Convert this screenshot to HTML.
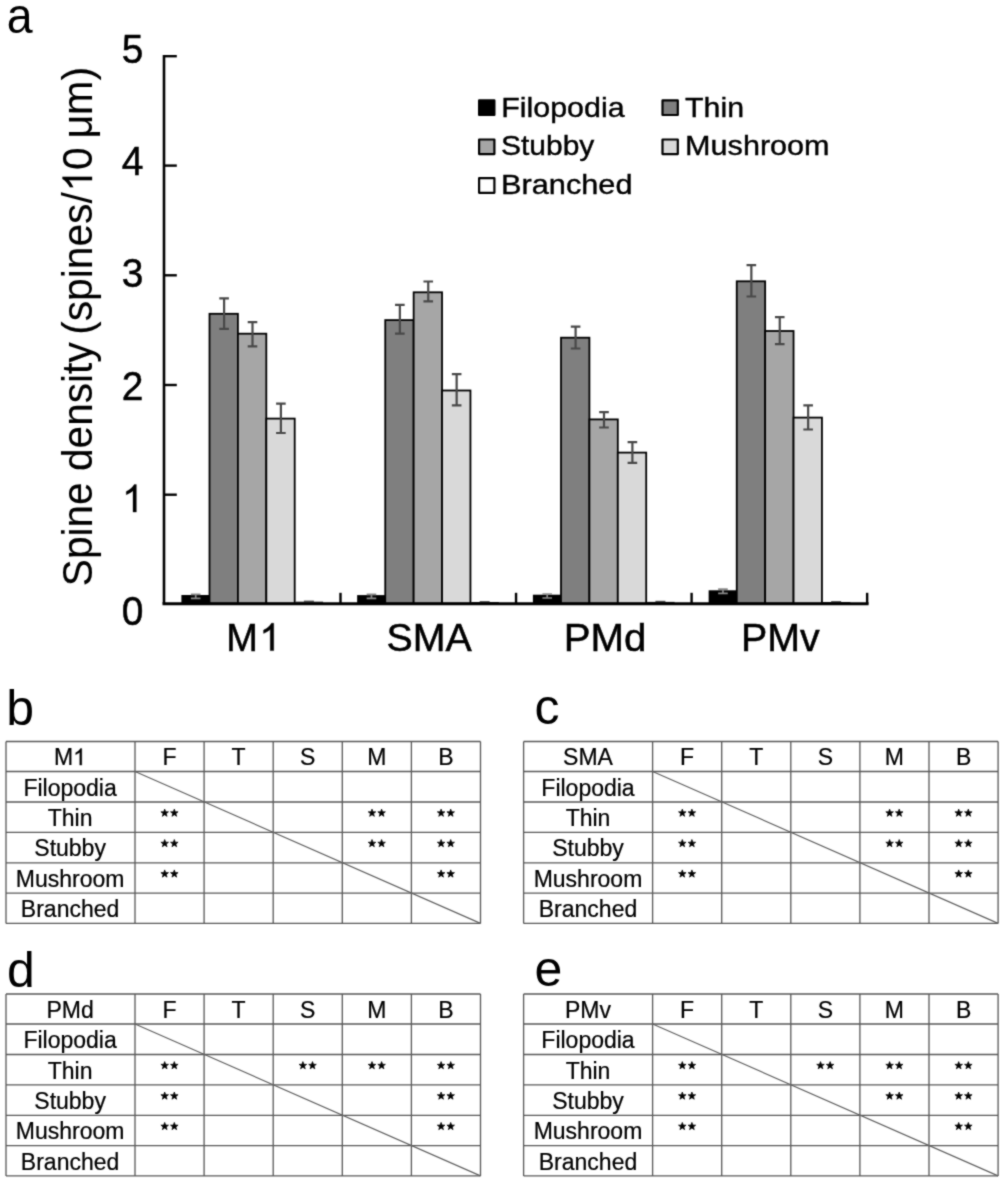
<!DOCTYPE html>
<html>
<head>
<meta charset="utf-8">
<title>Spine density figure</title>
<style>
html, body { margin: 0; padding: 0; background: #ffffff; }
body { width: 1003px; height: 1182px; overflow: hidden; font-family: "Liberation Sans", sans-serif; }
svg { display: block; position: absolute; left: 0; top: 0; }
#art { filter: url(#soft); }
svg text { font-family: "Liberation Sans", sans-serif; fill: #000; }
</style>
</head>
<body>
<svg width="1003" height="1182" viewBox="0 0 1003 1182">
<defs>
<filter id="soft" x="0" y="0" width="1003" height="1182" filterUnits="userSpaceOnUse" color-interpolation-filters="sRGB">
<feConvolveMatrix order="3" kernelMatrix="0.04 0.09 0.04 0.09 0.48 0.09 0.04 0.09 0.04" divisor="1" edgeMode="duplicate" preserveAlpha="false"/>
</filter>
</defs>
<g id="art">
<rect x="0" y="0" width="1003" height="1182" fill="#ffffff"/>
<line x1="164.0" x2="176.8" y1="494.70" y2="494.70" stroke="#000" stroke-width="2.4"/>
<line x1="164.0" x2="176.8" y1="385.00" y2="385.00" stroke="#000" stroke-width="2.4"/>
<line x1="164.0" x2="176.8" y1="275.30" y2="275.30" stroke="#000" stroke-width="2.4"/>
<line x1="164.0" x2="176.8" y1="165.60" y2="165.60" stroke="#000" stroke-width="2.4"/>
<line x1="164.0" x2="176.8" y1="56.20" y2="56.20" stroke="#000" stroke-width="2.4"/>
<line x1="340.50" x2="340.50" y1="603.6" y2="592.8" stroke="#000" stroke-width="2.4"/>
<line x1="516.05" x2="516.05" y1="603.6" y2="592.8" stroke="#000" stroke-width="2.4"/>
<line x1="691.60" x2="691.60" y1="603.6" y2="592.8" stroke="#000" stroke-width="2.4"/>
<line x1="867.15" x2="867.15" y1="603.6" y2="592.8" stroke="#000" stroke-width="2.4"/>
<rect x="182.30" y="595.90" width="27.20" height="7.70" fill="#000000" stroke="#000" stroke-width="1.8"/>
<path d="M190.90,594.30 H200.50 M190.90,598.30 H200.50 M195.70,594.30 V598.30" fill="none" stroke="#8a8a8a" stroke-width="1.7"/>
<rect x="209.50" y="313.80" width="28.40" height="289.80" fill="#7f7f7f" stroke="#000" stroke-width="1.8"/>
<path d="M219.30,298.40 H228.90 M219.30,328.90 H228.90 M224.10,298.40 V328.90" fill="none" stroke="#484848" stroke-width="2.2"/>
<rect x="237.90" y="333.70" width="28.40" height="269.90" fill="#a6a6a6" stroke="#000" stroke-width="1.8"/>
<path d="M247.70,322.20 H257.30 M247.70,346.30 H257.30 M252.50,322.20 V346.30" fill="none" stroke="#484848" stroke-width="2.2"/>
<rect x="266.30" y="418.60" width="28.40" height="185.00" fill="#d9d9d9" stroke="#000" stroke-width="1.8"/>
<path d="M276.10,403.70 H285.70 M276.10,433.00 H285.70 M280.90,403.70 V433.00" fill="none" stroke="#484848" stroke-width="2.2"/>
<line x1="295.70" x2="323.10" y1="602.20" y2="602.20" stroke="#000" stroke-width="1"/>
<line x1="303.90" x2="313.90" y1="601.30" y2="601.30" stroke="#484848" stroke-width="1.4"/>
<rect x="358.05" y="596.00" width="27.20" height="7.60" fill="#000000" stroke="#000" stroke-width="1.8"/>
<path d="M366.65,594.30 H376.25 M366.65,598.30 H376.25 M371.45,594.30 V598.30" fill="none" stroke="#8a8a8a" stroke-width="1.7"/>
<rect x="385.25" y="320.10" width="28.40" height="283.50" fill="#7f7f7f" stroke="#000" stroke-width="1.8"/>
<path d="M395.05,304.90 H404.65 M395.05,333.60 H404.65 M399.85,304.90 V333.60" fill="none" stroke="#484848" stroke-width="2.2"/>
<rect x="413.65" y="292.30" width="28.40" height="311.30" fill="#a6a6a6" stroke="#000" stroke-width="1.8"/>
<path d="M423.45,281.50 H433.05 M423.45,301.30 H433.05 M428.25,281.50 V301.30" fill="none" stroke="#484848" stroke-width="2.2"/>
<rect x="442.05" y="390.50" width="28.40" height="213.10" fill="#d9d9d9" stroke="#000" stroke-width="1.8"/>
<path d="M451.85,374.20 H461.45 M451.85,405.40 H461.45 M456.65,374.20 V405.40" fill="none" stroke="#484848" stroke-width="2.2"/>
<line x1="471.45" x2="498.85" y1="602.60" y2="602.60" stroke="#000" stroke-width="1"/>
<line x1="479.65" x2="489.65" y1="601.80" y2="601.80" stroke="#484848" stroke-width="1.4"/>
<rect x="533.80" y="595.60" width="27.20" height="8.00" fill="#000000" stroke="#000" stroke-width="1.8"/>
<path d="M542.40,594.00 H552.00 M542.40,598.00 H552.00 M547.20,594.00 V598.00" fill="none" stroke="#8a8a8a" stroke-width="1.7"/>
<rect x="561.00" y="337.70" width="28.40" height="265.90" fill="#7f7f7f" stroke="#000" stroke-width="1.8"/>
<path d="M570.80,326.60 H580.40 M570.80,348.50 H580.40 M575.60,326.60 V348.50" fill="none" stroke="#484848" stroke-width="2.2"/>
<rect x="589.40" y="419.40" width="28.40" height="184.20" fill="#a6a6a6" stroke="#000" stroke-width="1.8"/>
<path d="M599.20,412.20 H608.80 M599.20,427.50 H608.80 M604.00,412.20 V427.50" fill="none" stroke="#484848" stroke-width="2.2"/>
<rect x="617.80" y="452.60" width="28.40" height="151.00" fill="#d9d9d9" stroke="#000" stroke-width="1.8"/>
<path d="M627.60,442.20 H637.20 M627.60,462.80 H637.20 M632.40,442.20 V462.80" fill="none" stroke="#484848" stroke-width="2.2"/>
<line x1="647.20" x2="674.60" y1="602.40" y2="602.40" stroke="#000" stroke-width="1"/>
<line x1="655.40" x2="665.40" y1="601.50" y2="601.50" stroke="#484848" stroke-width="1.4"/>
<rect x="709.55" y="591.20" width="27.20" height="12.40" fill="#000000" stroke="#000" stroke-width="1.8"/>
<path d="M718.15,589.20 H727.75 M718.15,593.40 H727.75 M722.95,589.20 V593.40" fill="none" stroke="#8a8a8a" stroke-width="1.7"/>
<rect x="736.75" y="281.30" width="28.40" height="322.30" fill="#7f7f7f" stroke="#000" stroke-width="1.8"/>
<path d="M746.55,265.10 H756.15 M746.55,296.50 H756.15 M751.35,265.10 V296.50" fill="none" stroke="#484848" stroke-width="2.2"/>
<rect x="765.15" y="331.00" width="28.40" height="272.60" fill="#a6a6a6" stroke="#000" stroke-width="1.8"/>
<path d="M774.95,317.20 H784.55 M774.95,344.10 H784.55 M779.75,317.20 V344.10" fill="none" stroke="#484848" stroke-width="2.2"/>
<rect x="793.55" y="417.60" width="28.40" height="186.00" fill="#d9d9d9" stroke="#000" stroke-width="1.8"/>
<path d="M803.35,405.40 H812.95 M803.35,429.50 H812.95 M808.15,405.40 V429.50" fill="none" stroke="#484848" stroke-width="2.2"/>
<line x1="822.95" x2="850.35" y1="602.60" y2="602.60" stroke="#000" stroke-width="1"/>
<line x1="831.15" x2="841.15" y1="601.80" y2="601.80" stroke="#484848" stroke-width="1.4"/>
<path d="M164.0,54.9 V603.6" fill="none" stroke="#000" stroke-width="2.6"/>
<path d="M164.0,603.7 H867.10" fill="none" stroke="#000" stroke-width="3.0" stroke-linecap="square"/>
<text transform="translate(132.6,63.10) scale(0.955,1)" font-size="40.8" text-anchor="middle" stroke="#000" stroke-width="0.5">5</text>
<text transform="translate(132.6,174.60) scale(0.955,1)" font-size="40.8" text-anchor="middle" stroke="#000" stroke-width="0.5">4</text>
<text transform="translate(132.6,287.40) scale(0.955,1)" font-size="40.8" text-anchor="middle" stroke="#000" stroke-width="0.5">3</text>
<text transform="translate(132.6,400.10) scale(0.955,1)" font-size="40.8" text-anchor="middle" stroke="#000" stroke-width="0.5">2</text>
<path transform="translate(122.10,512.10) scale(0.01870,-0.01870)" d="M763 0H583V1147Q518 1085 412.5 1023T223 930V1104Q374 1175 487 1276T647 1472H763Z" fill="#000" stroke="#000" stroke-width="16.0"/>
<text transform="translate(132.6,624.60) scale(0.955,1)" font-size="40.8" text-anchor="middle" stroke="#000" stroke-width="0.5">0</text>
<text transform="translate(226.20,650.6) scale(1.0,1)" font-size="38" stroke="#000" stroke-width="0.5">M</text>
<path transform="translate(259.50,650.60) scale(0.01855,-0.01855)" d="M763 0H583V1147Q518 1085 412.5 1023T223 930V1104Q374 1175 487 1276T647 1472H763Z" fill="#000" stroke="#000" stroke-width="26.9"/>
<text transform="translate(386.60,650.6) scale(1.0350,1)" font-size="38" stroke="#000" stroke-width="0.5">SMA</text>
<text transform="translate(563.80,650.6) scale(1.0584,1)" font-size="38" stroke="#000" stroke-width="0.5">PMd</text>
<text transform="translate(740.90,650.6) scale(1.0360,1)" font-size="38" stroke="#000" stroke-width="0.5">PMv</text>
<text transform="translate(92.1,586.2) rotate(-90) scale(0.9676,1)" font-size="42" stroke="#000" stroke-width="0.1">Spine density</text>
<text transform="translate(92.1,334.8) rotate(-90) scale(0.97,1)" font-size="42" stroke="#000" stroke-width="0.1">(spines/</text>
<text transform="translate(92.1,169.9) rotate(-90) scale(0.97,1)" font-size="42" stroke="#000" stroke-width="0.1">0</text>
<text transform="translate(92.1,138.6) rotate(-90) scale(0.98,1)" font-size="42" stroke="#000" stroke-width="0.1">μm)</text>
<path transform="translate(92.1,191.7) rotate(-90) scale(0.01956,-0.02017)" d="M763 0H583V1147Q518 1085 412.5 1023T223 930V1104Q374 1175 487 1276T647 1472H763Z" fill="#000" stroke="#000" stroke-width="5.0"/>
<rect x="479.10" y="100.40" width="15.3" height="14.6" fill="#000000" stroke="#000" stroke-width="2.2" stroke-linejoin="round"/>
<text x="501.2" y="116.7" font-size="28" textLength="123.4" lengthAdjust="spacingAndGlyphs" stroke="#000" stroke-width="0.4">Filopodia</text>
<rect x="662.50" y="100.40" width="15.3" height="14.6" fill="#7f7f7f" stroke="#000" stroke-width="2.2" stroke-linejoin="round"/>
<text x="685.0" y="116.7" font-size="28" textLength="59.0" lengthAdjust="spacingAndGlyphs" stroke="#000" stroke-width="0.4">Thin</text>
<rect x="479.10" y="139.50" width="15.3" height="14.6" fill="#a6a6a6" stroke="#000" stroke-width="2.2" stroke-linejoin="round"/>
<text x="501.0" y="154.7" font-size="28" textLength="93.3" lengthAdjust="spacingAndGlyphs" stroke="#000" stroke-width="0.4">Stubby</text>
<rect x="662.50" y="139.50" width="15.3" height="14.6" fill="#d9d9d9" stroke="#000" stroke-width="2.2" stroke-linejoin="round"/>
<text x="685.1" y="154.7" font-size="28" textLength="144.5" lengthAdjust="spacingAndGlyphs" stroke="#000" stroke-width="0.4">Mushroom</text>
<rect x="479.10" y="178.20" width="15.3" height="14.6" fill="#ffffff" stroke="#000" stroke-width="2.2" stroke-linejoin="round"/>
<text x="501.0" y="194.1" font-size="28" textLength="131.5" lengthAdjust="spacingAndGlyphs" stroke="#000" stroke-width="0.4">Branched</text>
<text transform="translate(6.8,32.7) scale(0.93,1)" font-size="50">a</text>
<text transform="translate(6.3,725.4) scale(1,1)" font-size="50">b</text>
<text transform="translate(534.6,724.2) scale(1,1)" font-size="50">c</text>
<text transform="translate(7.0,986.5) scale(1,1)" font-size="50">d</text>
<text transform="translate(534.6,986.4) scale(1,1)" font-size="50">e</text>
<path d="M6.00,741.50 H480.50 M6.00,771.50 H480.50 M6.00,802.00 H480.50 M6.00,832.40 H480.50 M6.00,862.80 H480.50 M6.00,893.20 H480.50 M6.00,923.40 H480.50 M6.00,741.50 V923.40 M135.00,741.50 V923.40 M204.10,741.50 V923.40 M273.20,741.50 V923.40 M342.30,741.50 V923.40 M411.40,741.50 V923.40 M480.50,741.50 V923.40" fill="none" stroke="#585858" stroke-width="1.3"/>
<path d="M135.00,771.50 L480.50,923.40" fill="none" stroke="#606060" stroke-width="1.15"/>
<text x="54.0" y="765.10" font-size="23.0" stroke="#000" stroke-width="0.22">M</text>
<path transform="translate(73.20,765.10) scale(0.01123,-0.01123)" d="M763 0H583V1147Q518 1085 412.5 1023T223 930V1104Q374 1175 487 1276T647 1472H763Z" fill="#000" stroke="#000" stroke-width="31.2"/>
<text transform="translate(169.55,765.10) scale(1.0,1)" font-size="23.0" text-anchor="middle" stroke="#000" stroke-width="0.22" >F</text>
<text transform="translate(238.65,765.10) scale(1.0,1)" font-size="23.0" text-anchor="middle" stroke="#000" stroke-width="0.22" >T</text>
<text transform="translate(307.75,765.10) scale(1.0,1)" font-size="23.0" text-anchor="middle" stroke="#000" stroke-width="0.22" >S</text>
<text transform="translate(376.85,765.10) scale(1.0,1)" font-size="23.0" text-anchor="middle" stroke="#000" stroke-width="0.22" >M</text>
<text transform="translate(445.95,765.10) scale(1.0,1)" font-size="23.0" text-anchor="middle" stroke="#000" stroke-width="0.22" >B</text>
<text transform="translate(70.10,795.60) scale(1.0,1)" font-size="23.0" text-anchor="middle" stroke="#000" stroke-width="0.22" >Filopodia</text>
<text transform="translate(70.10,826.00) scale(1.0,1)" font-size="23.0" text-anchor="middle" stroke="#000" stroke-width="0.22" >Thin</text>
<text transform="translate(70.10,856.40) scale(1.0,1)" font-size="23.0" text-anchor="middle" stroke="#000" stroke-width="0.22" >Stubby</text>
<text transform="translate(70.10,886.80) scale(1.0,1)" font-size="23.0" text-anchor="middle" stroke="#000" stroke-width="0.22" >Mushroom</text>
<text transform="translate(70.10,917.00) scale(1.0,1)" font-size="23.0" text-anchor="middle" stroke="#000" stroke-width="0.22" >Branched</text>
<polygon points="441.10,839.50 442.07,842.17 444.90,842.26 442.67,844.01 443.45,846.74 441.10,845.15 438.75,846.74 439.53,844.01 437.30,842.26 440.13,842.17" fill="#000" stroke="#000" stroke-width="0.7" stroke-linejoin="round"/>
<polygon points="450.70,839.50 451.67,842.17 454.50,842.26 452.27,844.01 453.05,846.74 450.70,845.15 448.35,846.74 449.13,844.01 446.90,842.26 449.73,842.17" fill="#000" stroke="#000" stroke-width="0.7" stroke-linejoin="round"/>
<polygon points="441.10,869.90 442.07,872.57 444.90,872.66 442.67,874.41 443.45,877.14 441.10,875.55 438.75,877.14 439.53,874.41 437.30,872.66 440.13,872.57" fill="#000" stroke="#000" stroke-width="0.7" stroke-linejoin="round"/>
<polygon points="450.70,869.90 451.67,872.57 454.50,872.66 452.27,874.41 453.05,877.14 450.70,875.55 448.35,877.14 449.13,874.41 446.90,872.66 449.73,872.57" fill="#000" stroke="#000" stroke-width="0.7" stroke-linejoin="round"/>
<polygon points="164.70,839.50 165.67,842.17 168.50,842.26 166.27,844.01 167.05,846.74 164.70,845.15 162.35,846.74 163.13,844.01 160.90,842.26 163.73,842.17" fill="#000" stroke="#000" stroke-width="0.7" stroke-linejoin="round"/>
<polygon points="174.30,839.50 175.27,842.17 178.10,842.26 175.87,844.01 176.65,846.74 174.30,845.15 171.95,846.74 172.73,844.01 170.50,842.26 173.33,842.17" fill="#000" stroke="#000" stroke-width="0.7" stroke-linejoin="round"/>
<polygon points="441.10,809.10 442.07,811.77 444.90,811.86 442.67,813.61 443.45,816.34 441.10,814.75 438.75,816.34 439.53,813.61 437.30,811.86 440.13,811.77" fill="#000" stroke="#000" stroke-width="0.7" stroke-linejoin="round"/>
<polygon points="450.70,809.10 451.67,811.77 454.50,811.86 452.27,813.61 453.05,816.34 450.70,814.75 448.35,816.34 449.13,813.61 446.90,811.86 449.73,811.77" fill="#000" stroke="#000" stroke-width="0.7" stroke-linejoin="round"/>
<polygon points="164.70,869.90 165.67,872.57 168.50,872.66 166.27,874.41 167.05,877.14 164.70,875.55 162.35,877.14 163.13,874.41 160.90,872.66 163.73,872.57" fill="#000" stroke="#000" stroke-width="0.7" stroke-linejoin="round"/>
<polygon points="174.30,869.90 175.27,872.57 178.10,872.66 175.87,874.41 176.65,877.14 174.30,875.55 171.95,877.14 172.73,874.41 170.50,872.66 173.33,872.57" fill="#000" stroke="#000" stroke-width="0.7" stroke-linejoin="round"/>
<polygon points="372.00,839.50 372.97,842.17 375.80,842.26 373.57,844.01 374.35,846.74 372.00,845.15 369.65,846.74 370.43,844.01 368.20,842.26 371.03,842.17" fill="#000" stroke="#000" stroke-width="0.7" stroke-linejoin="round"/>
<polygon points="381.60,839.50 382.57,842.17 385.40,842.26 383.17,844.01 383.95,846.74 381.60,845.15 379.25,846.74 380.03,844.01 377.80,842.26 380.63,842.17" fill="#000" stroke="#000" stroke-width="0.7" stroke-linejoin="round"/>
<polygon points="164.70,809.10 165.67,811.77 168.50,811.86 166.27,813.61 167.05,816.34 164.70,814.75 162.35,816.34 163.13,813.61 160.90,811.86 163.73,811.77" fill="#000" stroke="#000" stroke-width="0.7" stroke-linejoin="round"/>
<polygon points="174.30,809.10 175.27,811.77 178.10,811.86 175.87,813.61 176.65,816.34 174.30,814.75 171.95,816.34 172.73,813.61 170.50,811.86 173.33,811.77" fill="#000" stroke="#000" stroke-width="0.7" stroke-linejoin="round"/>
<polygon points="372.00,809.10 372.97,811.77 375.80,811.86 373.57,813.61 374.35,816.34 372.00,814.75 369.65,816.34 370.43,813.61 368.20,811.86 371.03,811.77" fill="#000" stroke="#000" stroke-width="0.7" stroke-linejoin="round"/>
<polygon points="381.60,809.10 382.57,811.77 385.40,811.86 383.17,813.61 383.95,816.34 381.60,814.75 379.25,816.34 380.03,813.61 377.80,811.86 380.63,811.77" fill="#000" stroke="#000" stroke-width="0.7" stroke-linejoin="round"/>
<path d="M523.60,741.50 H998.10 M523.60,771.50 H998.10 M523.60,802.00 H998.10 M523.60,832.40 H998.10 M523.60,862.80 H998.10 M523.60,893.20 H998.10 M523.60,923.40 H998.10 M523.60,741.50 V923.40 M652.60,741.50 V923.40 M721.70,741.50 V923.40 M790.80,741.50 V923.40 M859.90,741.50 V923.40 M929.00,741.50 V923.40 M998.10,741.50 V923.40" fill="none" stroke="#585858" stroke-width="1.3"/>
<path d="M652.60,771.50 L998.10,923.40" fill="none" stroke="#606060" stroke-width="1.15"/>
<text transform="translate(588.00,765.10) scale(1.0,1)" font-size="23.0" text-anchor="middle" stroke="#000" stroke-width="0.22" >SMA</text>
<text transform="translate(687.15,765.10) scale(1.0,1)" font-size="23.0" text-anchor="middle" stroke="#000" stroke-width="0.22" >F</text>
<text transform="translate(756.25,765.10) scale(1.0,1)" font-size="23.0" text-anchor="middle" stroke="#000" stroke-width="0.22" >T</text>
<text transform="translate(825.35,765.10) scale(1.0,1)" font-size="23.0" text-anchor="middle" stroke="#000" stroke-width="0.22" >S</text>
<text transform="translate(894.45,765.10) scale(1.0,1)" font-size="23.0" text-anchor="middle" stroke="#000" stroke-width="0.22" >M</text>
<text transform="translate(963.55,765.10) scale(1.0,1)" font-size="23.0" text-anchor="middle" stroke="#000" stroke-width="0.22" >B</text>
<text transform="translate(588.00,795.60) scale(1.0,1)" font-size="23.0" text-anchor="middle" stroke="#000" stroke-width="0.22" >Filopodia</text>
<text transform="translate(588.00,826.00) scale(1.0,1)" font-size="23.0" text-anchor="middle" stroke="#000" stroke-width="0.22" >Thin</text>
<text transform="translate(588.00,856.40) scale(1.0,1)" font-size="23.0" text-anchor="middle" stroke="#000" stroke-width="0.22" >Stubby</text>
<text transform="translate(588.00,886.80) scale(1.0,1)" font-size="23.0" text-anchor="middle" stroke="#000" stroke-width="0.22" >Mushroom</text>
<text transform="translate(588.00,917.00) scale(1.0,1)" font-size="23.0" text-anchor="middle" stroke="#000" stroke-width="0.22" >Branched</text>
<polygon points="958.70,839.50 959.67,842.17 962.50,842.26 960.27,844.01 961.05,846.74 958.70,845.15 956.35,846.74 957.13,844.01 954.90,842.26 957.73,842.17" fill="#000" stroke="#000" stroke-width="0.7" stroke-linejoin="round"/>
<polygon points="968.30,839.50 969.27,842.17 972.10,842.26 969.87,844.01 970.65,846.74 968.30,845.15 965.95,846.74 966.73,844.01 964.50,842.26 967.33,842.17" fill="#000" stroke="#000" stroke-width="0.7" stroke-linejoin="round"/>
<polygon points="958.70,869.90 959.67,872.57 962.50,872.66 960.27,874.41 961.05,877.14 958.70,875.55 956.35,877.14 957.13,874.41 954.90,872.66 957.73,872.57" fill="#000" stroke="#000" stroke-width="0.7" stroke-linejoin="round"/>
<polygon points="968.30,869.90 969.27,872.57 972.10,872.66 969.87,874.41 970.65,877.14 968.30,875.55 965.95,877.14 966.73,874.41 964.50,872.66 967.33,872.57" fill="#000" stroke="#000" stroke-width="0.7" stroke-linejoin="round"/>
<polygon points="682.30,839.50 683.27,842.17 686.10,842.26 683.87,844.01 684.65,846.74 682.30,845.15 679.95,846.74 680.73,844.01 678.50,842.26 681.33,842.17" fill="#000" stroke="#000" stroke-width="0.7" stroke-linejoin="round"/>
<polygon points="691.90,839.50 692.87,842.17 695.70,842.26 693.47,844.01 694.25,846.74 691.90,845.15 689.55,846.74 690.33,844.01 688.10,842.26 690.93,842.17" fill="#000" stroke="#000" stroke-width="0.7" stroke-linejoin="round"/>
<polygon points="958.70,809.10 959.67,811.77 962.50,811.86 960.27,813.61 961.05,816.34 958.70,814.75 956.35,816.34 957.13,813.61 954.90,811.86 957.73,811.77" fill="#000" stroke="#000" stroke-width="0.7" stroke-linejoin="round"/>
<polygon points="968.30,809.10 969.27,811.77 972.10,811.86 969.87,813.61 970.65,816.34 968.30,814.75 965.95,816.34 966.73,813.61 964.50,811.86 967.33,811.77" fill="#000" stroke="#000" stroke-width="0.7" stroke-linejoin="round"/>
<polygon points="682.30,869.90 683.27,872.57 686.10,872.66 683.87,874.41 684.65,877.14 682.30,875.55 679.95,877.14 680.73,874.41 678.50,872.66 681.33,872.57" fill="#000" stroke="#000" stroke-width="0.7" stroke-linejoin="round"/>
<polygon points="691.90,869.90 692.87,872.57 695.70,872.66 693.47,874.41 694.25,877.14 691.90,875.55 689.55,877.14 690.33,874.41 688.10,872.66 690.93,872.57" fill="#000" stroke="#000" stroke-width="0.7" stroke-linejoin="round"/>
<polygon points="889.60,839.50 890.57,842.17 893.40,842.26 891.17,844.01 891.95,846.74 889.60,845.15 887.25,846.74 888.03,844.01 885.80,842.26 888.63,842.17" fill="#000" stroke="#000" stroke-width="0.7" stroke-linejoin="round"/>
<polygon points="899.20,839.50 900.17,842.17 903.00,842.26 900.77,844.01 901.55,846.74 899.20,845.15 896.85,846.74 897.63,844.01 895.40,842.26 898.23,842.17" fill="#000" stroke="#000" stroke-width="0.7" stroke-linejoin="round"/>
<polygon points="682.30,809.10 683.27,811.77 686.10,811.86 683.87,813.61 684.65,816.34 682.30,814.75 679.95,816.34 680.73,813.61 678.50,811.86 681.33,811.77" fill="#000" stroke="#000" stroke-width="0.7" stroke-linejoin="round"/>
<polygon points="691.90,809.10 692.87,811.77 695.70,811.86 693.47,813.61 694.25,816.34 691.90,814.75 689.55,816.34 690.33,813.61 688.10,811.86 690.93,811.77" fill="#000" stroke="#000" stroke-width="0.7" stroke-linejoin="round"/>
<polygon points="889.60,809.10 890.57,811.77 893.40,811.86 891.17,813.61 891.95,816.34 889.60,814.75 887.25,816.34 888.03,813.61 885.80,811.86 888.63,811.77" fill="#000" stroke="#000" stroke-width="0.7" stroke-linejoin="round"/>
<polygon points="899.20,809.10 900.17,811.77 903.00,811.86 900.77,813.61 901.55,816.34 899.20,814.75 896.85,816.34 897.63,813.61 895.40,811.86 898.23,811.77" fill="#000" stroke="#000" stroke-width="0.7" stroke-linejoin="round"/>
<path d="M6.00,994.00 H480.50 M6.00,1024.00 H480.50 M6.00,1054.50 H480.50 M6.00,1084.90 H480.50 M6.00,1115.30 H480.50 M6.00,1145.70 H480.50 M6.00,1175.90 H480.50 M6.00,994.00 V1175.90 M135.00,994.00 V1175.90 M204.10,994.00 V1175.90 M273.20,994.00 V1175.90 M342.30,994.00 V1175.90 M411.40,994.00 V1175.90 M480.50,994.00 V1175.90" fill="none" stroke="#585858" stroke-width="1.3"/>
<path d="M135.00,1024.00 L480.50,1175.90" fill="none" stroke="#606060" stroke-width="1.15"/>
<text transform="translate(70.10,1017.60) scale(1.0,1)" font-size="23.0" text-anchor="middle" stroke="#000" stroke-width="0.22" >PMd</text>
<text transform="translate(169.55,1017.60) scale(1.0,1)" font-size="23.0" text-anchor="middle" stroke="#000" stroke-width="0.22" >F</text>
<text transform="translate(238.65,1017.60) scale(1.0,1)" font-size="23.0" text-anchor="middle" stroke="#000" stroke-width="0.22" >T</text>
<text transform="translate(307.75,1017.60) scale(1.0,1)" font-size="23.0" text-anchor="middle" stroke="#000" stroke-width="0.22" >S</text>
<text transform="translate(376.85,1017.60) scale(1.0,1)" font-size="23.0" text-anchor="middle" stroke="#000" stroke-width="0.22" >M</text>
<text transform="translate(445.95,1017.60) scale(1.0,1)" font-size="23.0" text-anchor="middle" stroke="#000" stroke-width="0.22" >B</text>
<text transform="translate(70.10,1048.10) scale(1.0,1)" font-size="23.0" text-anchor="middle" stroke="#000" stroke-width="0.22" >Filopodia</text>
<text transform="translate(70.10,1078.50) scale(1.0,1)" font-size="23.0" text-anchor="middle" stroke="#000" stroke-width="0.22" >Thin</text>
<text transform="translate(70.10,1108.90) scale(1.0,1)" font-size="23.0" text-anchor="middle" stroke="#000" stroke-width="0.22" >Stubby</text>
<text transform="translate(70.10,1139.30) scale(1.0,1)" font-size="23.0" text-anchor="middle" stroke="#000" stroke-width="0.22" >Mushroom</text>
<text transform="translate(70.10,1169.50) scale(1.0,1)" font-size="23.0" text-anchor="middle" stroke="#000" stroke-width="0.22" >Branched</text>
<polygon points="441.10,1092.00 442.07,1094.67 444.90,1094.76 442.67,1096.51 443.45,1099.24 441.10,1097.65 438.75,1099.24 439.53,1096.51 437.30,1094.76 440.13,1094.67" fill="#000" stroke="#000" stroke-width="0.7" stroke-linejoin="round"/>
<polygon points="450.70,1092.00 451.67,1094.67 454.50,1094.76 452.27,1096.51 453.05,1099.24 450.70,1097.65 448.35,1099.24 449.13,1096.51 446.90,1094.76 449.73,1094.67" fill="#000" stroke="#000" stroke-width="0.7" stroke-linejoin="round"/>
<polygon points="302.90,1061.60 303.87,1064.27 306.70,1064.36 304.47,1066.11 305.25,1068.84 302.90,1067.25 300.55,1068.84 301.33,1066.11 299.10,1064.36 301.93,1064.27" fill="#000" stroke="#000" stroke-width="0.7" stroke-linejoin="round"/>
<polygon points="312.50,1061.60 313.47,1064.27 316.30,1064.36 314.07,1066.11 314.85,1068.84 312.50,1067.25 310.15,1068.84 310.93,1066.11 308.70,1064.36 311.53,1064.27" fill="#000" stroke="#000" stroke-width="0.7" stroke-linejoin="round"/>
<polygon points="441.10,1122.40 442.07,1125.07 444.90,1125.16 442.67,1126.91 443.45,1129.64 441.10,1128.05 438.75,1129.64 439.53,1126.91 437.30,1125.16 440.13,1125.07" fill="#000" stroke="#000" stroke-width="0.7" stroke-linejoin="round"/>
<polygon points="450.70,1122.40 451.67,1125.07 454.50,1125.16 452.27,1126.91 453.05,1129.64 450.70,1128.05 448.35,1129.64 449.13,1126.91 446.90,1125.16 449.73,1125.07" fill="#000" stroke="#000" stroke-width="0.7" stroke-linejoin="round"/>
<polygon points="164.70,1092.00 165.67,1094.67 168.50,1094.76 166.27,1096.51 167.05,1099.24 164.70,1097.65 162.35,1099.24 163.13,1096.51 160.90,1094.76 163.73,1094.67" fill="#000" stroke="#000" stroke-width="0.7" stroke-linejoin="round"/>
<polygon points="174.30,1092.00 175.27,1094.67 178.10,1094.76 175.87,1096.51 176.65,1099.24 174.30,1097.65 171.95,1099.24 172.73,1096.51 170.50,1094.76 173.33,1094.67" fill="#000" stroke="#000" stroke-width="0.7" stroke-linejoin="round"/>
<polygon points="441.10,1061.60 442.07,1064.27 444.90,1064.36 442.67,1066.11 443.45,1068.84 441.10,1067.25 438.75,1068.84 439.53,1066.11 437.30,1064.36 440.13,1064.27" fill="#000" stroke="#000" stroke-width="0.7" stroke-linejoin="round"/>
<polygon points="450.70,1061.60 451.67,1064.27 454.50,1064.36 452.27,1066.11 453.05,1068.84 450.70,1067.25 448.35,1068.84 449.13,1066.11 446.90,1064.36 449.73,1064.27" fill="#000" stroke="#000" stroke-width="0.7" stroke-linejoin="round"/>
<polygon points="164.70,1122.40 165.67,1125.07 168.50,1125.16 166.27,1126.91 167.05,1129.64 164.70,1128.05 162.35,1129.64 163.13,1126.91 160.90,1125.16 163.73,1125.07" fill="#000" stroke="#000" stroke-width="0.7" stroke-linejoin="round"/>
<polygon points="174.30,1122.40 175.27,1125.07 178.10,1125.16 175.87,1126.91 176.65,1129.64 174.30,1128.05 171.95,1129.64 172.73,1126.91 170.50,1125.16 173.33,1125.07" fill="#000" stroke="#000" stroke-width="0.7" stroke-linejoin="round"/>
<polygon points="164.70,1061.60 165.67,1064.27 168.50,1064.36 166.27,1066.11 167.05,1068.84 164.70,1067.25 162.35,1068.84 163.13,1066.11 160.90,1064.36 163.73,1064.27" fill="#000" stroke="#000" stroke-width="0.7" stroke-linejoin="round"/>
<polygon points="174.30,1061.60 175.27,1064.27 178.10,1064.36 175.87,1066.11 176.65,1068.84 174.30,1067.25 171.95,1068.84 172.73,1066.11 170.50,1064.36 173.33,1064.27" fill="#000" stroke="#000" stroke-width="0.7" stroke-linejoin="round"/>
<polygon points="372.00,1061.60 372.97,1064.27 375.80,1064.36 373.57,1066.11 374.35,1068.84 372.00,1067.25 369.65,1068.84 370.43,1066.11 368.20,1064.36 371.03,1064.27" fill="#000" stroke="#000" stroke-width="0.7" stroke-linejoin="round"/>
<polygon points="381.60,1061.60 382.57,1064.27 385.40,1064.36 383.17,1066.11 383.95,1068.84 381.60,1067.25 379.25,1068.84 380.03,1066.11 377.80,1064.36 380.63,1064.27" fill="#000" stroke="#000" stroke-width="0.7" stroke-linejoin="round"/>
<path d="M523.60,994.00 H998.10 M523.60,1024.00 H998.10 M523.60,1054.50 H998.10 M523.60,1084.90 H998.10 M523.60,1115.30 H998.10 M523.60,1145.70 H998.10 M523.60,1175.90 H998.10 M523.60,994.00 V1175.90 M652.60,994.00 V1175.90 M721.70,994.00 V1175.90 M790.80,994.00 V1175.90 M859.90,994.00 V1175.90 M929.00,994.00 V1175.90 M998.10,994.00 V1175.90" fill="none" stroke="#585858" stroke-width="1.3"/>
<path d="M652.60,1024.00 L998.10,1175.90" fill="none" stroke="#606060" stroke-width="1.15"/>
<text transform="translate(588.00,1017.60) scale(1.0,1)" font-size="23.0" text-anchor="middle" stroke="#000" stroke-width="0.22" >PMv</text>
<text transform="translate(687.15,1017.60) scale(1.0,1)" font-size="23.0" text-anchor="middle" stroke="#000" stroke-width="0.22" >F</text>
<text transform="translate(756.25,1017.60) scale(1.0,1)" font-size="23.0" text-anchor="middle" stroke="#000" stroke-width="0.22" >T</text>
<text transform="translate(825.35,1017.60) scale(1.0,1)" font-size="23.0" text-anchor="middle" stroke="#000" stroke-width="0.22" >S</text>
<text transform="translate(894.45,1017.60) scale(1.0,1)" font-size="23.0" text-anchor="middle" stroke="#000" stroke-width="0.22" >M</text>
<text transform="translate(963.55,1017.60) scale(1.0,1)" font-size="23.0" text-anchor="middle" stroke="#000" stroke-width="0.22" >B</text>
<text transform="translate(588.00,1048.10) scale(1.0,1)" font-size="23.0" text-anchor="middle" stroke="#000" stroke-width="0.22" >Filopodia</text>
<text transform="translate(588.00,1078.50) scale(1.0,1)" font-size="23.0" text-anchor="middle" stroke="#000" stroke-width="0.22" >Thin</text>
<text transform="translate(588.00,1108.90) scale(1.0,1)" font-size="23.0" text-anchor="middle" stroke="#000" stroke-width="0.22" >Stubby</text>
<text transform="translate(588.00,1139.30) scale(1.0,1)" font-size="23.0" text-anchor="middle" stroke="#000" stroke-width="0.22" >Mushroom</text>
<text transform="translate(588.00,1169.50) scale(1.0,1)" font-size="23.0" text-anchor="middle" stroke="#000" stroke-width="0.22" >Branched</text>
<polygon points="958.70,1092.00 959.67,1094.67 962.50,1094.76 960.27,1096.51 961.05,1099.24 958.70,1097.65 956.35,1099.24 957.13,1096.51 954.90,1094.76 957.73,1094.67" fill="#000" stroke="#000" stroke-width="0.7" stroke-linejoin="round"/>
<polygon points="968.30,1092.00 969.27,1094.67 972.10,1094.76 969.87,1096.51 970.65,1099.24 968.30,1097.65 965.95,1099.24 966.73,1096.51 964.50,1094.76 967.33,1094.67" fill="#000" stroke="#000" stroke-width="0.7" stroke-linejoin="round"/>
<polygon points="820.50,1061.60 821.47,1064.27 824.30,1064.36 822.07,1066.11 822.85,1068.84 820.50,1067.25 818.15,1068.84 818.93,1066.11 816.70,1064.36 819.53,1064.27" fill="#000" stroke="#000" stroke-width="0.7" stroke-linejoin="round"/>
<polygon points="830.10,1061.60 831.07,1064.27 833.90,1064.36 831.67,1066.11 832.45,1068.84 830.10,1067.25 827.75,1068.84 828.53,1066.11 826.30,1064.36 829.13,1064.27" fill="#000" stroke="#000" stroke-width="0.7" stroke-linejoin="round"/>
<polygon points="958.70,1122.40 959.67,1125.07 962.50,1125.16 960.27,1126.91 961.05,1129.64 958.70,1128.05 956.35,1129.64 957.13,1126.91 954.90,1125.16 957.73,1125.07" fill="#000" stroke="#000" stroke-width="0.7" stroke-linejoin="round"/>
<polygon points="968.30,1122.40 969.27,1125.07 972.10,1125.16 969.87,1126.91 970.65,1129.64 968.30,1128.05 965.95,1129.64 966.73,1126.91 964.50,1125.16 967.33,1125.07" fill="#000" stroke="#000" stroke-width="0.7" stroke-linejoin="round"/>
<polygon points="682.30,1092.00 683.27,1094.67 686.10,1094.76 683.87,1096.51 684.65,1099.24 682.30,1097.65 679.95,1099.24 680.73,1096.51 678.50,1094.76 681.33,1094.67" fill="#000" stroke="#000" stroke-width="0.7" stroke-linejoin="round"/>
<polygon points="691.90,1092.00 692.87,1094.67 695.70,1094.76 693.47,1096.51 694.25,1099.24 691.90,1097.65 689.55,1099.24 690.33,1096.51 688.10,1094.76 690.93,1094.67" fill="#000" stroke="#000" stroke-width="0.7" stroke-linejoin="round"/>
<polygon points="958.70,1061.60 959.67,1064.27 962.50,1064.36 960.27,1066.11 961.05,1068.84 958.70,1067.25 956.35,1068.84 957.13,1066.11 954.90,1064.36 957.73,1064.27" fill="#000" stroke="#000" stroke-width="0.7" stroke-linejoin="round"/>
<polygon points="968.30,1061.60 969.27,1064.27 972.10,1064.36 969.87,1066.11 970.65,1068.84 968.30,1067.25 965.95,1068.84 966.73,1066.11 964.50,1064.36 967.33,1064.27" fill="#000" stroke="#000" stroke-width="0.7" stroke-linejoin="round"/>
<polygon points="682.30,1122.40 683.27,1125.07 686.10,1125.16 683.87,1126.91 684.65,1129.64 682.30,1128.05 679.95,1129.64 680.73,1126.91 678.50,1125.16 681.33,1125.07" fill="#000" stroke="#000" stroke-width="0.7" stroke-linejoin="round"/>
<polygon points="691.90,1122.40 692.87,1125.07 695.70,1125.16 693.47,1126.91 694.25,1129.64 691.90,1128.05 689.55,1129.64 690.33,1126.91 688.10,1125.16 690.93,1125.07" fill="#000" stroke="#000" stroke-width="0.7" stroke-linejoin="round"/>
<polygon points="889.60,1092.00 890.57,1094.67 893.40,1094.76 891.17,1096.51 891.95,1099.24 889.60,1097.65 887.25,1099.24 888.03,1096.51 885.80,1094.76 888.63,1094.67" fill="#000" stroke="#000" stroke-width="0.7" stroke-linejoin="round"/>
<polygon points="899.20,1092.00 900.17,1094.67 903.00,1094.76 900.77,1096.51 901.55,1099.24 899.20,1097.65 896.85,1099.24 897.63,1096.51 895.40,1094.76 898.23,1094.67" fill="#000" stroke="#000" stroke-width="0.7" stroke-linejoin="round"/>
<polygon points="682.30,1061.60 683.27,1064.27 686.10,1064.36 683.87,1066.11 684.65,1068.84 682.30,1067.25 679.95,1068.84 680.73,1066.11 678.50,1064.36 681.33,1064.27" fill="#000" stroke="#000" stroke-width="0.7" stroke-linejoin="round"/>
<polygon points="691.90,1061.60 692.87,1064.27 695.70,1064.36 693.47,1066.11 694.25,1068.84 691.90,1067.25 689.55,1068.84 690.33,1066.11 688.10,1064.36 690.93,1064.27" fill="#000" stroke="#000" stroke-width="0.7" stroke-linejoin="round"/>
<polygon points="889.60,1061.60 890.57,1064.27 893.40,1064.36 891.17,1066.11 891.95,1068.84 889.60,1067.25 887.25,1068.84 888.03,1066.11 885.80,1064.36 888.63,1064.27" fill="#000" stroke="#000" stroke-width="0.7" stroke-linejoin="round"/>
<polygon points="899.20,1061.60 900.17,1064.27 903.00,1064.36 900.77,1066.11 901.55,1068.84 899.20,1067.25 896.85,1068.84 897.63,1066.11 895.40,1064.36 898.23,1064.27" fill="#000" stroke="#000" stroke-width="0.7" stroke-linejoin="round"/>
</g>
</svg>
</body>
</html>
